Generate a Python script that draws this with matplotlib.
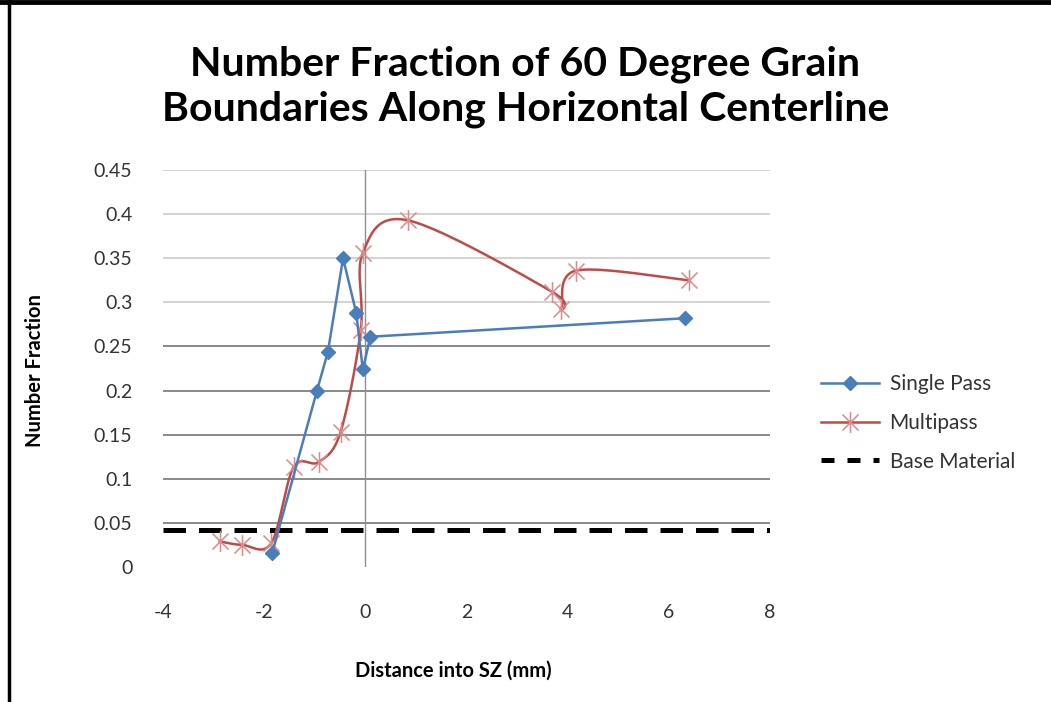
import numpy as np
import matplotlib
matplotlib.use("Agg")
import matplotlib.pyplot as plt
from matplotlib.path import Path
from matplotlib.lines import Line2D

plt.rcParams['font.family'] = ['Lato', 'DejaVu Sans']
plt.rcParams['axes.unicode_minus'] = False

# data
single_x = [-1.84, -0.96, -0.74, -0.44, -0.18, -0.05, 0.10, 6.32]
single_y = [0.016, 0.199, 0.244, 0.350, 0.288, 0.224, 0.261, 0.282]

multi_x = [-2.88, -2.43, -1.86, -1.42, -0.92, -0.49, -0.09, -0.05, 0.84, 3.69, 3.87, 4.17, 6.39]
multi_y = [0.029, 0.025, 0.027, 0.113, 0.119, 0.153, 0.269, 0.356, 0.393, 0.312, 0.293, 0.336, 0.325]

base_level = 0.042

x_ticks = [-4, -2, 0, 2, 4, 6, 8]
y_ticks = [0, 0.05, 0.1, 0.15, 0.2, 0.25, 0.3, 0.35, 0.4, 0.45]
y_labels = ['0', '0.05', '0.1', '0.15', '0.2', '0.25', '0.3', '0.35', '0.4', '0.45']

blue = '#4A7EBB'
red = '#BE4B48'


def excel_smooth(xs, ys, n=40):
    # bezier smoothing like the "smoothed line" option
    p = np.column_stack([xs, ys]).astype(float)
    out = [p[0]]
    for i in range(len(p) - 1):
        p0 = p[i - 1] if i > 0 else p[i]
        p1, p2 = p[i], p[i + 1]
        p3 = p[i + 2] if i + 2 < len(p) else p[i + 1]
        c1 = p1 + (p2 - p0) / 6.0
        c2 = p2 - (p3 - p1) / 6.0
        t = np.linspace(0, 1, n)[1:, None]
        seg = ((1 - t) ** 3) * p1 + 3 * ((1 - t) ** 2) * t * c1 + 3 * (1 - t) * t ** 2 * c2 + t ** 3 * p2
        out.extend(seg)
    out = np.array(out)
    return out[:, 0], out[:, 1]


# asterisk marker: x plus vertical bar
star = Path([(-1, -1), (1, 1), (-1, 1), (1, -1), (0, -1.3), (0, 1.3)],
            [Path.MOVETO, Path.LINETO, Path.MOVETO, Path.LINETO, Path.MOVETO, Path.LINETO])

fig = plt.figure(figsize=(10.51, 7.02), dpi=100)
ax = fig.add_axes([163 / 1051, 1 - 567 / 702, 607 / 1051, 397 / 702])

ax.axhline(base_level, color='black', lw=3.6, dashes=(4.5, 2.6), zorder=2)

sx, sy = excel_smooth(multi_x, multi_y)
ax.plot(sx, sy, color=red, lw=1.8, zorder=3)
ax.plot(multi_x, multi_y, ls='none', marker=star, ms=15, mfc='none',
        mec='#D98C8A', mew=1.1, zorder=3)

ax.plot(single_x, single_y, color=blue, lw=1.8, marker='D', ms=7, zorder=4)

ax.set_xlim(-4, 8)
ax.set_ylim(0, 0.45)
ax.set_xticks(x_ticks)
ax.set_yticks(y_ticks)
ax.set_yticklabels(y_labels)
ax.tick_params(length=0, labelsize=14, colors='#333333')
ax.tick_params(axis='y', pad=22)
ax.tick_params(axis='x', pad=27)
for s in ax.spines.values():
    s.set_visible(False)

ax.yaxis.grid(True, color='#808080', lw=1.3)
for tick_val, gl in zip(y_ticks, ax.yaxis.get_gridlines()):
    if tick_val == 0:
        gl.set_visible(False)
    elif tick_val >= 0.3:
        gl.set_color('#D0D0D0')
ax.set_axisbelow(True)
ax.axvline(0, color='#909090', lw=1, zorder=1)

ax.set_xlabel('Distance into SZ (mm)', fontsize=14.5, fontweight='bold')
ax.set_ylabel('Number Fraction', fontsize=14.5, fontweight='bold')
ax.xaxis.set_label_coords(0.479, -0.237)
ax.yaxis.set_label_coords(-0.194, 0.496)

fig.text(0.5, 1 - 87 / 702, 'Number Fraction of 60 Degree Grain\nBoundaries Along Horizontal Centerline',
         ha='center', va='center', fontsize=29.5, fontweight='bold', linespacing=1.25)

handles = [
    Line2D([], [], color=blue, lw=1.8, marker='D', ms=7),
    Line2D([], [], color=red, lw=1.8, marker=star, ms=15, mfc='none', mec='#D98C8A', mew=1.1),
    Line2D([], [], color='black', lw=3.6, dashes=(2.6, 2.6)),
]
fig.legend(handles, ['Single Pass', 'Multipass', 'Base Material'],
           loc='center left', bbox_to_anchor=(802 / 1051, 1 - 423 / 702),
           frameon=False, fontsize=15, handlelength=2.8, handletextpad=0.5,
           labelspacing=0.9, labelcolor='#333333')

# frame edges
fig.add_artist(Line2D([0, 1], [1 - 2 / 702, 1 - 2 / 702], color='black', lw=3.5, transform=fig.transFigure))
fig.add_artist(Line2D([8.5 / 1051, 8.5 / 1051], [0, 1], color='black', lw=2.5, transform=fig.transFigure))

fig.savefig('out.png', dpi=100)
